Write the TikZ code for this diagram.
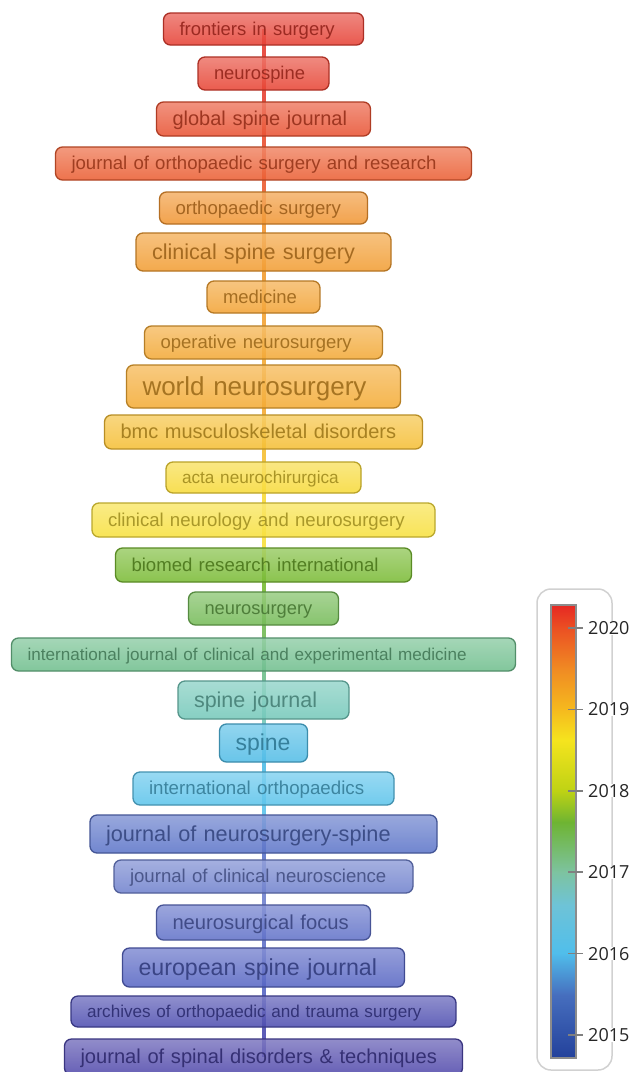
\documentclass[tikz,border=0pt]{standalone}
\usepackage{fontspec}
\setmainfont{Liberation Sans}
\newfontfamily\legendfont{Open Sans}
\usetikzlibrary{positioning}
\pgfdeclarelayer{background}
\pgfsetlayers{background,main}
\newcommand{\jfs}[1]{\fontsize{#1}{#1}\selectfont}
% journal colours (top to bottom)
\definecolor{vz01}{RGB}{230,62,50}
\definecolor{vz02}{RGB}{231,66,50}
\definecolor{vz03}{RGB}{233,80,48}
\definecolor{vz04}{RGB}{235,92,48}
\definecolor{vz05}{RGB}{241,148,48}
\definecolor{vz06}{RGB}{242,156,48}
\definecolor{vz07}{RGB}{243,162,50}
\definecolor{vz08}{RGB}{243,168,52}
\definecolor{vz09}{RGB}{244,170,50}
\definecolor{vz10}{RGB}{245,190,50}
\definecolor{vz11}{RGB}{248,218,55}
\definecolor{vz12}{RGB}{248,224,60}
\definecolor{vz13}{RGB}{120,186,50}
\definecolor{vz14}{RGB}{115,186,85}
\definecolor{vz15}{RGB}{110,190,140}
\definecolor{vz16}{RGB}{115,200,185}
\definecolor{vz17}{RGB}{80,188,230}
\definecolor{vz18}{RGB}{90,195,235}
\definecolor{vz19}{RGB}{90,115,200}
\definecolor{vz20}{RGB}{110,128,205}
\definecolor{vz21}{RGB}{95,112,200}
\definecolor{vz22}{RGB}{85,100,195}
\definecolor{vz23}{RGB}{75,75,175}
\definecolor{vz24}{RGB}{78,70,170}
% colour bar stops
\definecolor{cb0}{RGB}{230,40,35}
\definecolor{cb1}{RGB}{235,80,35}
\definecolor{cb2}{RGB}{240,140,35}
\definecolor{cb3}{RGB}{245,185,30}
\definecolor{cb4}{RGB}{245,228,30}
\definecolor{cb5}{RGB}{190,210,20}
\definecolor{cb6}{RGB}{110,180,50}
\definecolor{cb7}{RGB}{125,195,160}
\definecolor{cb8}{RGB}{110,195,215}
\definecolor{cb9}{RGB}{80,190,235}
\definecolor{cb10}{RGB}{70,110,190}
\definecolor{cb11}{RGB}{35,65,155}

\begin{document}
\begin{tikzpicture}[x=1pt, y=-1pt,
    journal/.style={rectangle, rounded corners=7pt, line width=1.3pt, inner xsep=16pt, inner ysep=1pt, align=left, fill opacity=0.86, text opacity=1},
    jsize/.style={font=\jfs{#1}, text height=0.84*#1pt, text depth=0.18*#1pt},
    jcol/.style={top color=#1!72!white, bottom color=#1, draw=#1!75!black, text=#1!68!black},
    link/.style={line width=4pt, draw=#1!90!white, line cap=butt}]

\useasboundingbox (0,0) rectangle (633,1072);
\clip (0,0) rectangle (633,1072);

% Journals, newest at the top
\node[journal, jcol=vz01, text width=168pt, minimum height=32pt, jsize=18.5] (frontiers) at (263.5,29) {frontiers in surgery};
\node[journal, jcol=vz02, text width=99pt, minimum height=33pt, jsize=18.4] (neurospine) at (263.5,73.5) {neurospine};
\node[journal, jcol=vz03, text width=182pt, minimum height=34pt, jsize=20] (globalspine) at (263.5,119) {global spine journal};
\node[journal, jcol=vz04, text width=384pt, minimum height=33pt, jsize=18.6] (josr) at (263.5,163.5) {journal of orthopaedic surgery and research};
\node[journal, jcol=vz05, text width=176pt, minimum height=32pt, jsize=18.6] (orthosurg) at (263.5,208) {orthopaedic surgery};
\node[journal, jcol=vz06, text width=223pt, minimum height=38pt, jsize=21.6] (clinspine) at (263.5,252) {clinical spine surgery};
\node[journal, jcol=vz07, text width=81pt, minimum height=32pt, jsize=18.5] (medicine) at (263.5,297) {medicine};
\node[journal, jcol=vz08, text width=206pt, minimum height=33pt, jsize=18.5] (opneuro) at (263.5,342.5) {operative neurosurgery};
\node[journal, jcol=vz09, text width=242pt, minimum height=43pt, jsize=26] (worldneuro) at (263.5,386.5) {world neurosurgery};
\node[journal, jcol=vz10, text width=286pt, minimum height=34pt, jsize=20] (bmc) at (263.5,432) {bmc musculoskeletal disorders};
\node[journal, jcol=vz11, text width=163pt, minimum height=31pt, jsize=17.2] (acta) at (263.5,477.5) {acta neurochirurgica};
\node[journal, jcol=vz12, text width=311pt, minimum height=34pt, jsize=18.6] (clinneurol) at (263.5,520) {clinical neurology and neurosurgery};
\node[journal, jcol=vz13, text width=264pt, minimum height=34pt, jsize=18.6] (biomed) at (263.5,565) {biomed research international};
\node[journal, jcol=vz14, text width=118pt, minimum height=33pt, jsize=18.3] (neurosurg) at (263.5,608.5) {neurosurgery};
\node[journal, jcol=vz15, text width=472pt, minimum height=33pt, jsize=17.1] (ijcem) at (263.5,654.5) {international journal of clinical and experimental medicine};
\node[journal, jcol=vz16, text width=139pt, minimum height=38pt, jsize=21.5] (spinejournal) at (263.5,700) {spine journal};
\node[journal, jcol=vz17, text width=56pt, minimum height=38pt, jsize=23] (spine) at (263.5,743) {spine};
\node[journal, jcol=vz18, text width=229pt, minimum height=33pt, jsize=18.7] (intortho) at (263.5,788.5) {international orthopaedics};
\node[journal, jcol=vz19, text width=315pt, minimum height=38pt, jsize=21.7] (jnsspine) at (263.5,834) {journal of neurosurgery-spine};
\node[journal, jcol=vz20, text width=267pt, minimum height=33pt, jsize=18.6] (jclinneuro) at (263.5,876.5) {journal of clinical neuroscience};
\node[journal, jcol=vz21, text width=182pt, minimum height=35pt, jsize=20.2] (nsfocus) at (263.5,922.5) {neurosurgical focus};
\node[journal, jcol=vz22, text width=250pt, minimum height=39pt, jsize=23.2] (eurospine) at (263.5,967.5) {european spine journal};
\node[journal, jcol=vz23, text width=353pt, minimum height=31pt, jsize=17.1] (archives) at (263.5,1011.5) {archives of orthopaedic and trauma surgery};
\node[journal, jcol=vz24, text width=366pt, minimum height=36pt, jsize=20.1] (jsdt) at (263.5,1057) {journal of spinal disorders \& techniques};

% Time line behind the boxes
\begin{pgfonlayer}{background}
\fill[white] (0,0) rectangle (633,1072);
\draw[link=vz01] (frontiers.center) -- (neurospine.center);
\draw[link=vz02] (neurospine.center) -- (globalspine.center);
\draw[link=vz03] (globalspine.center) -- (josr.center);
\draw[link=vz04] (josr.center) -- (orthosurg.center);
\draw[link=vz05] (orthosurg.center) -- (clinspine.center);
\draw[link=vz06] (clinspine.center) -- (medicine.center);
\draw[link=vz07] (medicine.center) -- (opneuro.center);
\draw[link=vz08] (opneuro.center) -- (worldneuro.center);
\draw[link=vz09] (worldneuro.center) -- (bmc.center);
\draw[link=vz10] (bmc.center) -- (acta.center);
\draw[link=vz11] (acta.center) -- (clinneurol.center);
\draw[link=vz12] (clinneurol.center) -- (biomed.center);
\draw[link=vz13] (biomed.center) -- (neurosurg.center);
\draw[link=vz14] (neurosurg.center) -- (ijcem.center);
\draw[link=vz15] (ijcem.center) -- (spinejournal.center);
\draw[link=vz16] (spinejournal.center) -- (spine.center);
\draw[link=vz17] (spine.center) -- (intortho.center);
\draw[link=vz18] (intortho.center) -- (jnsspine.center);
\draw[link=vz19] (jnsspine.center) -- (jclinneuro.center);
\draw[link=vz20] (jclinneuro.center) -- (nsfocus.center);
\draw[link=vz21] (nsfocus.center) -- (eurospine.center);
\draw[link=vz22] (eurospine.center) -- (archives.center);
\draw[link=vz23] (archives.center) -- (jsdt.center);
\end{pgfonlayer}

% Colour legend
\draw[rounded corners=14pt, draw=black!18, line width=1.5pt] (537,589) rectangle (612,1070);
\foreach \ya/\yb/\ca/\cb in {605/628/cb0/cb1, 628/670/cb1/cb2, 670/709/cb2/cb3, 709/740/cb3/cb4,
    740/791/cb4/cb5, 791/822/cb5/cb6, 822/872/cb6/cb7, 872/905/cb7/cb8, 905/953/cb8/cb9,
    953/995/cb9/cb10, 995/1058/cb10/cb11}
  \shade[top color=\ca, bottom color=\cb] (551,\ya) rectangle (576,\yb+0.3);
\draw[black!45, line width=1.5pt] (551,605) rectangle (576,1058);
\foreach \yr/\yy in {2020/628, 2019/709.4, 2018/790.8, 2017/872.2, 2016/953.6, 2015/1035}{
  \draw[black!50, line width=1.5pt] (568,\yy) -- (583,\yy);
  \node[anchor=west, fill=white, inner xsep=1pt, inner ysep=0pt, text=black!85, font=\legendfont\jfs{18}] (yr\yr) at (587,\yy) {\yr};
}
\end{tikzpicture}
\end{document}
